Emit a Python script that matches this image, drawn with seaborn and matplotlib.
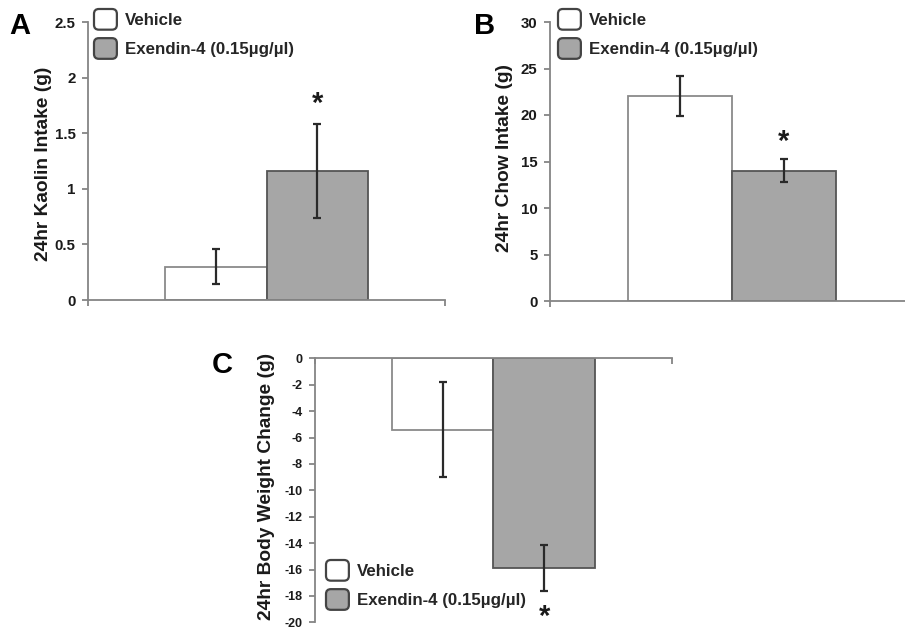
import matplotlib
matplotlib.use("Agg")
import matplotlib.pyplot as plt
from matplotlib.patches import Patch, FancyBboxPatch
from matplotlib.legend_handler import HandlerPatch
import seaborn as sns
import pandas as pd

# Group labels and summary statistics (mean and SEM) for each panel
groups = ["Vehicle", "Exendin-4 (0.15µg/µl)"]
kaolin_mean = [0.30, 1.16]
kaolin_sem = [0.16, 0.42]
chow_mean = [22.0, 14.0]
chow_sem = [2.15, 1.25]
weight_mean = [-5.4, -15.9]
weight_sem = [3.6, 1.75]

# Position of the significance marker (data units)
kaolin_star = 1.76
chow_star = 17.1
weight_star = -19.6

bar_colors = ["#FFFFFF", "#A6A6A6"]
edge_colors = ["#8A8A8A", "#555555"]
axis_gray = "#858585"

sns.set_theme(style="white")
plt.rcParams["font.family"] = ["Liberation Sans", "DejaVu Sans"]
plt.rcParams["font.weight"] = "bold"

W, H = 905, 633
fig = plt.figure(figsize=(W / 100, H / 100), dpi=100)


def px_axes(left, top, right, bottom):
    return fig.add_axes([left / W, 1 - bottom / H, (right - left) / W, (bottom - top) / H])


class RoundBox(HandlerPatch):
    def create_artists(self, legend, orig_handle, xdescent, ydescent,
                       width, height, fontsize, trans):
        p = FancyBboxPatch((-xdescent, -ydescent), width, height,
                           boxstyle="round,pad=0,rounding_size=3.5",
                           facecolor=orig_handle.get_facecolor(),
                           edgecolor="#444444", linewidth=1.6, transform=trans)
        return [p]


def draw_panel(ax, means, sems, ylim, ticks, ticksize, star_y, letter, ylabel,
               label_xy, legend_anchor, top_axis=False):
    df = pd.DataFrame({"cat": ["all", "all"], "group": groups, "value": means})
    sns.barplot(data=df, x="cat", y="value", hue="group", palette=bar_colors,
                width=0.57, gap=0, errorbar=None, legend=False, ax=ax,
                saturation=1)
    bars = [p for p in ax.patches]
    for bar, m, s, ec in zip(bars, means, sems, edge_colors):
        bar.set_edgecolor(ec)
        bar.set_linewidth(1.3)
        cx = bar.get_x() + bar.get_width() / 2
        ax.errorbar(cx, m, yerr=s, fmt="none", ecolor="#2a2a2a",
                    elinewidth=1.6, capsize=2.6, capthick=1.6, zorder=5)
    star_bar = bars[1]
    ax.text(star_bar.get_x() + star_bar.get_width() / 2, star_y, "*",
            ha="center", va="center", fontsize=21, fontweight="bold",
            color="#1a1a1a")

    ax.set_xlim(-0.5, 0.5)
    ax.set_ylim(*ylim)
    ax.set_yticks(ticks)
    ax.set_yticklabels([("%g" % t) for t in ticks], fontsize=ticksize,
                       fontweight="bold", color="#1a1a1a")
    ax.set_xticks([-0.5, 0.5])
    ax.set_xticklabels([])
    ax.set_xlabel("")
    for s in ["top", "right"]:
        ax.spines[s].set_visible(False)
    ax.spines["left"].set_color(axis_gray)
    ax.spines["left"].set_linewidth(1.3)
    if top_axis:
        ax.spines["bottom"].set_visible(False)
        ax.spines["top"].set_visible(True)
        ax.spines["top"].set_color(axis_gray)
        ax.spines["top"].set_linewidth(1.3)
        ax.tick_params(axis="x", bottom=False, top=True, direction="in",
                       length=4, width=1.3, color=axis_gray)
    else:
        ax.spines["bottom"].set_color(axis_gray)
        ax.spines["bottom"].set_linewidth(1.3)
        ax.tick_params(axis="x", bottom=True, direction="out", length=4,
                       width=1.3, color=axis_gray)
    ax.tick_params(axis="y", left=True, direction="out", length=4, width=1.3,
                   color=axis_gray, pad=5)
    ax.set_ylabel(ylabel, fontsize=13.8, fontweight="bold", color="#1a1a1a",
                  va="center")
    ax.yaxis.set_label_coords(*label_xy)

    handles = [Patch(facecolor=c, label=g) for c, g in zip(bar_colors, groups)]
    fig.legend(handles=handles, handler_map={Patch: RoundBox()},
               loc="upper left",
               bbox_to_anchor=(legend_anchor[0] / W, 1 - legend_anchor[1] / H),
               frameon=False, handlelength=1.35,
               handleheight=1.5, labelspacing=0.5, handletextpad=0.5,
               borderpad=0, borderaxespad=0,
               prop={"weight": "bold", "size": 12.2})
    fig.text(letter[1] / W, 1 - letter[2] / H, letter[0], fontsize=21,
             fontweight="bold", ha="left", va="top", color="black")


axA = px_axes(88, 22, 445, 300)
draw_panel(axA, kaolin_mean, kaolin_sem, (0, 2.5), [0, 0.5, 1, 1.5, 2, 2.5],
           10.8, kaolin_star, ("A", 9, 12), "24hr Kaolin Intake (g)",
           (-0.124, 0.489), (94, 9))

axB = px_axes(550, 22, 914, 301)
draw_panel(axB, chow_mean, chow_sem, (0, 30), [0, 5, 10, 15, 20, 25, 30],
           10.8, chow_star, ("B", 474, 12), "24hr Chow Intake (g)",
           (-0.125, 0.5125), (558, 9))

axC = px_axes(315, 358.3, 671.7, 622.3)
draw_panel(axC, weight_mean, weight_sem, (-20, 0), list(range(0, -21, -2)),
           9, weight_star, ("C", 212, 351), "24hr Body Weight Change (g)",
           (-0.135, 0.5136), (326, 560), top_axis=True)

fig.savefig("out.png", dpi=100)
